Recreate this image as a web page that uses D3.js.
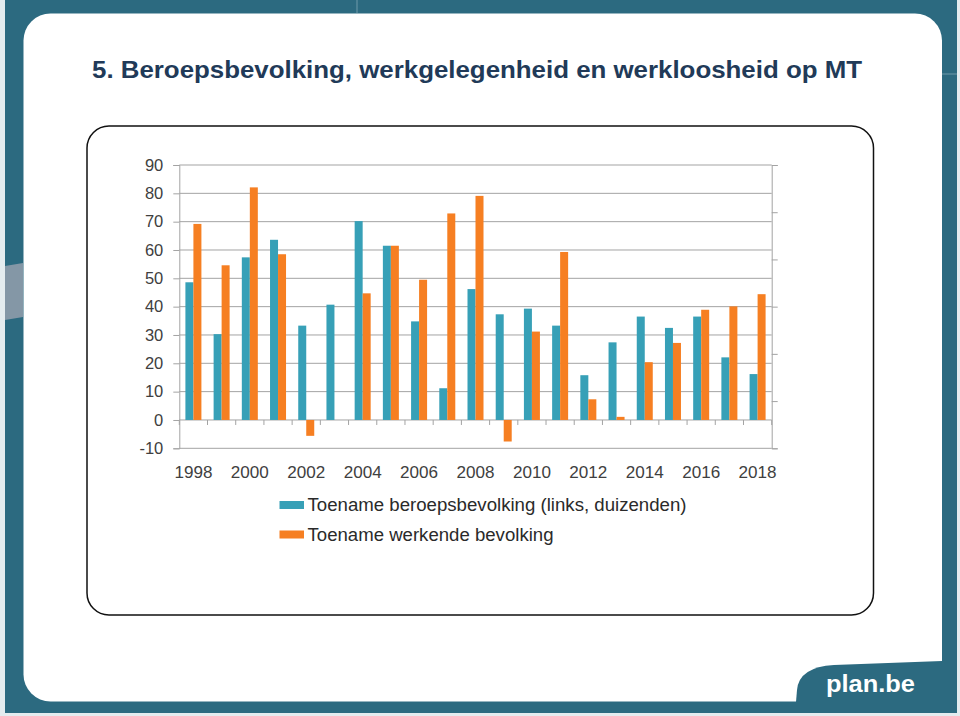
<!DOCTYPE html>
<html>
<head>
<meta charset="utf-8">
<script src="https://cdn.jsdelivr.net/npm/d3@7"></script>
<style>
  html, body { margin: 0; padding: 0; background: #e4ecef; }
  svg { display: block; }
  text { font-family: "Liberation Sans", Arial, sans-serif; }
</style>
</head>
<body>
<svg id="chart" width="960" height="716"></svg>
<script>
// ---------- data ----------
const years = ["1998","1999","2000","2001","2002","2003","2004","2005","2006","2007","2008",
               "2009","2010","2011","2012","2013","2014","2015","2016","2017","2018"];
const beroepsbevolking = [48.6, 30.3, 57.4, 63.6, 33.3, 40.7, 70.2, 61.5, 34.8, 11.2, 46.2,
                          37.3, 39.3, 33.3, 15.8, 27.4, 36.5, 32.5, 36.5, 22.1, 16.2];
const werkende = [69.2, 54.6, 82.1, 58.5, -5.6, 0, 44.7, 61.5, 49.5, 72.9, 79.1,
                  -7.6, 31.2, 59.3, 7.3, 1.1, 20.4, 27.2, 38.9, 40.1, 44.4];
const yTicks = [90, 80, 70, 60, 50, 40, 30, 20, 10, 0, -10];
const yTickLabels = ["90", "80", "70", "60", "50", "40", "30", "20", "10", "0", "-10"];
const rightTicks = [0, 1, 2, 3, 4, 5, 6];
const xTickLabels = ["1998","2000","2002","2004","2006","2008","2010","2012","2014","2016","2018"];
const seriesNames = ["Toename beroepsbevolking (links, duizenden)", "Toename werkende bevolking"];
const seriesKeys = ["b", "w"];
const title = "5. Beroepsbevolking, werkgelegenheid en werkloosheid op MT";

// ---------- style ----------
const TEAL = "#37a0b7", ORANGE = "#f67f22", GRID = "#a3a3a3", BG = "#2c6a80";

const svg = d3.select("#chart");

// background frame
svg.append("rect").attr("x", 5).attr("y", 0).attr("width", 952).attr("height", 713).attr("fill", BG);
svg.append("path").attr("d", "M5,266 L23,263 L23,317 L5,320 Z").attr("fill", "#8497a6");
svg.append("line").attr("x1", 357).attr("x2", 357).attr("y1", 0).attr("y2", 13).attr("stroke", "#6f9aaa").attr("stroke-width", 1);
svg.append("line").attr("x1", 942).attr("x2", 957).attr("y1", 74).attr("y2", 74).attr("stroke", "#6f9aaa").attr("stroke-width", 1);
svg.append("rect").attr("x", 23.5).attr("y", 13.5).attr("width", 918.5).attr("height", 688)
  .attr("rx", 27).attr("ry", 27).attr("fill", "#ffffff");
// logo tab
svg.append("path")
  .attr("d", "M796,702 L797,690 Q799,667 834,665 L942,661 L942,702 Z")
  .attr("fill", BG);
svg.append("text").attr("x", 826).attr("y", 692).attr("fill", "#ffffff")
  .attr("font-size", 24).attr("font-weight", "bold")
  .attr("textLength", 89).attr("lengthAdjust", "spacingAndGlyphs").text("plan.be");

// title
svg.append("text").attr("x", 92).attr("y", 77.5).attr("fill", "#213a58")
  .attr("font-family", "'Liberation Sans Narrow', 'Liberation Sans', Arial, sans-serif")
  .attr("font-size", 24.5).attr("font-weight", "bold")
  .attr("textLength", 770).attr("lengthAdjust", "spacingAndGlyphs").text(title);

// inner chart frame
svg.append("rect").attr("x", 87).attr("y", 126).attr("width", 786.5).attr("height", 489)
  .attr("rx", 22).attr("ry", 22).attr("fill", "#ffffff").attr("stroke", "#111").attr("stroke-width", 1.5);

// ---------- scales ----------
const pLeft = 179.3, pRight = 771.7, pTop = 165, pBottom = 448.3;
const y = d3.scaleLinear().domain([-10, 90]).range([pBottom, pTop]);
const yR = d3.scaleLinear().domain([0, 6]).range([pBottom, pTop]);
const x0 = d3.scaleBand().domain(years).range([pLeft, pRight]).padding(0);
const x1 = d3.scaleBand().domain(seriesKeys).range([0, x0.bandwidth()]).paddingInner(0).paddingOuter(0.763);

const g = svg.append("g");

// gridlines
g.selectAll("line.grid").data(yTicks).join("line").attr("class", "grid")
  .attr("x1", pLeft).attr("x2", pRight)
  .attr("y1", d => y(d)).attr("y2", d => y(d))
  .attr("stroke", GRID).attr("stroke-width", 1);

// left axis
const yAxis = d3.axisLeft(y).tickValues(yTicks).tickSize(6).tickPadding(10)
  .tickFormat((d, i) => yTickLabels[i]);
const ya = g.append("g").attr("transform", `translate(${pLeft},0)`).call(yAxis);
ya.select(".domain").attr("stroke", GRID);
ya.selectAll(".tick line").attr("stroke", GRID);
ya.selectAll(".tick text").attr("fill", "#404040").attr("font-size", 16.5)
  .attr("font-family", "Liberation Sans, Arial, sans-serif");

// right axis (unlabelled)
const yAxisR = d3.axisRight(yR).tickValues(rightTicks).tickSize(6).tickFormat("");
const yra = g.append("g").attr("transform", `translate(${pRight},0)`).call(yAxisR);
yra.select(".domain").attr("stroke", GRID);
yra.selectAll(".tick line").attr("stroke", GRID);

// bars
const rows = years.map((yr, i) => ({ year: yr, b: beroepsbevolking[i], w: werkende[i] }));
const colors = { b: TEAL, w: ORANGE };
const groups = g.selectAll("g.yr").data(rows).join("g").attr("class", "yr")
  .attr("transform", d => `translate(${x0(d.year)},0)`);
groups.selectAll("rect").data(d => seriesKeys.map(k => ({ key: k, value: d[k] }))).join("rect")
  .attr("x", d => x1(d.key))
  .attr("width", x1.bandwidth())
  .attr("y", d => y(Math.max(0, d.value)))
  .attr("height", d => Math.abs(y(d.value) - y(0)))
  .attr("fill", d => colors[d.key]);

// category ticks on zero line
const boundaries = years.map(yr => x0(yr)).concat([pRight]);
g.selectAll("line.xt").data(boundaries).join("line").attr("class", "xt")
  .attr("x1", d => d).attr("x2", d => d)
  .attr("y1", y(0)).attr("y2", y(0) + 5)
  .attr("stroke", GRID).attr("stroke-width", 1);

// x labels
g.selectAll("text.xl").data(xTickLabels).join("text").attr("class", "xl")
  .attr("x", d => x0(d) + x0.bandwidth() / 2)
  .attr("y", 478)
  .attr("text-anchor", "middle")
  .attr("font-size", 16.5).attr("fill", "#404040")
  .attr("textLength", 38).attr("lengthAdjust", "spacingAndGlyphs")
  .text(d => d);

// legend
const legendY = [501, 530.5];
const legendLen = [379, 246];
const lg = svg.append("g");
seriesKeys.forEach((k, i) => {
  lg.append("rect").attr("x", 279.5).attr("y", legendY[i]).attr("width", 24.5).attr("height", 8)
    .attr("fill", colors[k]);
  lg.append("text").attr("x", 307.5).attr("y", legendY[i] + 10.3)
    .attr("font-size", 17.5).attr("fill", "#2a2a2a")
    .attr("textLength", legendLen[i]).attr("lengthAdjust", "spacingAndGlyphs")
    .text(seriesNames[i]);
});
</script>
</body>
</html>
